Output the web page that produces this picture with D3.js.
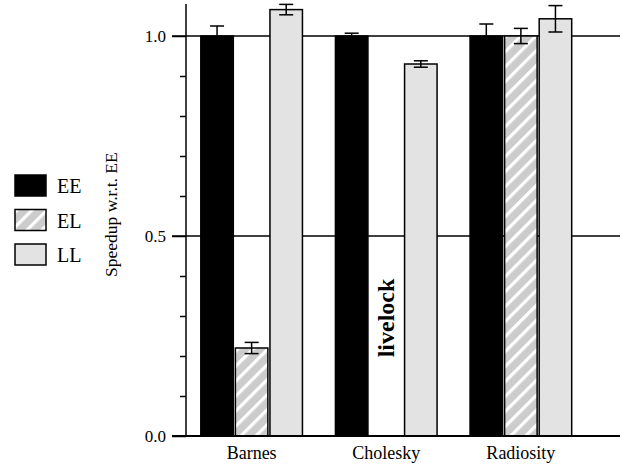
<!DOCTYPE html>
<html><head><meta charset="utf-8">
<script src="https://cdn.jsdelivr.net/npm/d3@7"></script>
<style>body{margin:0;background:#fff}svg{display:block}text{font-family:"Liberation Serif","Times New Roman",serif}</style>
</head><body>
<script>
const categories = ["Barnes", "Cholesky", "Radiosity"];
const seriesNames = ["EE", "EL", "LL"];
const EE = [1.0, 1.0, 1.0];
const EEerr = [0.025, 0.007, 0.03];
const EL = [0.22, 0, 1.0];
const ELerr = [0.014, null, 0.019];
const LL = [1.066, 0.93, 1.043];
const LLerr = [0.013, 0.008, 0.033];
const yMajorTicks = [0.0, 0.5, 1.0];
const yMinorTicks = [0.1, 0.2, 0.3, 0.4, 0.6, 0.7, 0.8, 0.9];
const gridValues = [0.5, 1.0];
const annotation = {category: "Cholesky", series: "EL", text: "livelock"};

const W = 622, H = 465;
const svg = d3.select("body").append("svg").attr("width", W).attr("height", H);
const defs = svg.append("defs");
const pat = defs.append("pattern").attr("id", "hatch").attr("patternUnits", "userSpaceOnUse")
  .attr("width", 10.6).attr("height", 10.6).attr("patternTransform", "rotate(45)");
pat.append("rect").attr("width", 10.6).attr("height", 10.6).attr("fill", "#cccccc");
pat.append("rect").attr("width", 3.2).attr("height", 10.6).attr("fill", "#ffffff");

const fills = {EE: "#000000", EL: "url(#hatch)", LL: "#e3e3e3"};
const axisX = 186, baseY = 436, rightX = 620;
const y = d3.scaleLinear().domain([0, 1]).range([baseY, 36]);
const x0 = d3.scaleBand().domain(categories).range([axisX, axisX + 400.5]).paddingInner(0.245).paddingOuter(0.11);
const x1 = d3.scaleBand().domain(seriesNames).range([0, x0.bandwidth()]).paddingInner(0.06);

const data = [];
categories.forEach((c, i) => {
  data.push({c, s: "EE", v: EE[i], e: EEerr[i]});
  data.push({c, s: "EL", v: EL[i], e: ELerr[i]});
  data.push({c, s: "LL", v: LL[i], e: LLerr[i]});
});

const serif = '"Liberation Serif","Times New Roman",serif';

// grid lines
svg.selectAll(".grid").data(gridValues).enter().append("line")
  .attr("x1", axisX - 14).attr("x2", rightX).attr("y1", d => y(d)).attr("y2", d => y(d))
  .attr("stroke", "#000").attr("stroke-width", 1.5);

// bars
const g = svg.append("g");
g.selectAll("rect.bar").data(data).enter().append("rect")
  .attr("x", d => x0(d.c) + x1(d.s))
  .attr("width", x1.bandwidth())
  .attr("y", d => y(d.v))
  .attr("height", d => baseY - y(d.v))
  .attr("fill", d => fills[d.s])
  .attr("stroke", "#000").attr("stroke-width", 1.5);

// error bars
const errs = data.filter(d => d.e != null && d.v > 0);
const eg = svg.append("g").attr("stroke", "#000").attr("stroke-width", 1.5);
errs.forEach(d => {
  const cx = x0(d.c) + x1(d.s) + x1.bandwidth() / 2;
  eg.append("line").attr("x1", cx).attr("x2", cx).attr("y1", y(d.v + d.e)).attr("y2", y(d.v - d.e));
  [d.v + d.e, d.v - d.e].forEach(v => eg.append("line").attr("x1", cx - 7).attr("x2", cx + 7).attr("y1", y(v)).attr("y2", y(v)));
});

// axes
const yAxis = d3.axisLeft(y).tickValues(yMajorTicks).tickSize(14).tickPadding(6).tickFormat(d3.format(".1f"));
const ya = svg.append("g").attr("transform", `translate(${axisX},0)`).call(yAxis);
ya.select(".domain").remove();
ya.selectAll("line").attr("stroke-width", 1.5);
ya.selectAll("text").attr("font-size", 17).attr("fill", "#000").style("font-family", serif);
const yMinor = d3.axisLeft(y).tickValues(yMinorTicks).tickSize(6).tickFormat("");
const ym = svg.append("g").attr("transform", `translate(${axisX},0)`).call(yMinor);
ym.select(".domain").remove();
ym.selectAll("line").attr("stroke-width", 1.5);
svg.append("line").attr("x1", axisX).attr("x2", axisX).attr("y1", 4).attr("y2", baseY).attr("stroke", "#000").attr("stroke-width", 1.5);
svg.append("line").attr("x1", axisX - 14).attr("x2", rightX).attr("y1", baseY).attr("y2", baseY).attr("stroke", "#000").attr("stroke-width", 2);

const xAxis = d3.axisBottom(x0).tickSize(0).tickPadding(10);
const xa = svg.append("g").attr("transform", `translate(0,${baseY})`).call(xAxis);
xa.select(".domain").remove();
xa.selectAll("text").attr("font-size", 18).attr("fill", "#000").style("font-family", serif);

// y label
svg.append("text").attr("transform", `translate(117,277) rotate(-90)`)
  .attr("text-anchor", "start").attr("font-size", 17.5).text("Speedup w.r.t. EE");

// annotation
const ax = x0(annotation.category) + x1(annotation.series) + x1.bandwidth() / 2;
svg.append("text").attr("transform", `translate(${ax + 8},${y(0.295)}) rotate(-90)`)
  .attr("text-anchor", "middle").attr("font-size", 24).attr("font-weight", "bold").text(annotation.text);

// legend
const leg = svg.append("g");
seriesNames.forEach((s, i) => {
  const ly = 175 + i * 34.5;
  leg.append("rect").attr("x", 15).attr("y", ly).attr("width", 31).attr("height", 21)
    .attr("fill", fills[s]).attr("stroke", "#000").attr("stroke-width", 1.5);
  leg.append("text").attr("x", 57).attr("y", ly + 18).attr("font-size", 20).text(s);
});
</script>
</body></html>
